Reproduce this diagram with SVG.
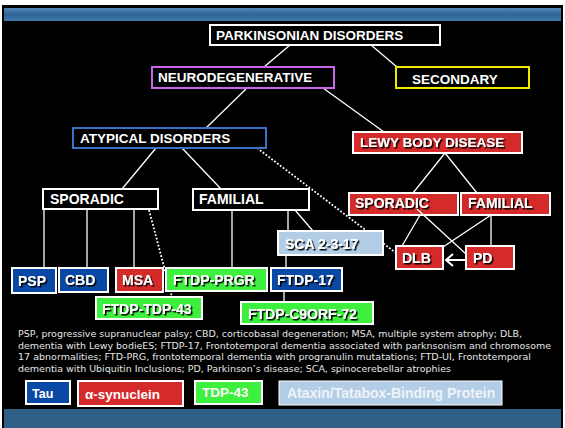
<svg xmlns="http://www.w3.org/2000/svg" width="565" height="428" viewBox="0 0 565 428">
<defs>
<linearGradient id="hdr" x1="0" y1="0" x2="0" y2="1">
<stop offset="0" stop-color="#5288b8"/>
<stop offset="0.5" stop-color="#2e6697"/>
<stop offset="1" stop-color="#3f77a8"/>
</linearGradient>
<filter id="sh" x="-10%" y="-30%" width="130%" height="170%">
<feDropShadow dx="1.5" dy="1.5" stdDeviation="0.4" flood-color="#000" flood-opacity="1"/>
</filter>
</defs>
<style>
.t{font-family:"Liberation Sans",Arial,sans-serif;font-weight:bold;font-size:14px;fill:#fff}
.ts{font-family:"Liberation Sans",Arial,sans-serif;font-weight:bold;font-size:14px;fill:#fff;filter:url(#sh)}
.bk{fill:#000;stroke:#fff;stroke-width:2}
.bl{fill:#0a48a6;stroke:#fff;stroke-width:2}
.rd{fill:#d42a2a;stroke:#fff;stroke-width:2}
.gr{fill:#3ef03e;stroke:#fff;stroke-width:2}
.lb{fill:#b3cde7;stroke:#fff;stroke-width:2}
.ln{stroke:#fff;stroke-width:1.3;fill:none}
.dt{stroke:#fff;stroke-width:1.8;fill:none;stroke-dasharray:1.8 1.8}
.ft{font-family:"DejaVu Sans",Verdana,sans-serif;font-size:9.5px;fill:#e6e6e6}
</style>
<rect x="0" y="0" width="565" height="428" fill="#fff"/>
<rect x="2" y="5" width="561" height="423" fill="#000"/>
<rect x="4" y="8" width="557" height="13" fill="url(#hdr)"/>
<rect x="4" y="409" width="557" height="19" fill="#2f5e86"/>

<g id="connectors">
<line class="ln" x1="290" y1="45" x2="264" y2="67"/>
<line class="ln" x1="371" y1="45" x2="397" y2="67"/>
<line class="ln" x1="246" y1="89" x2="206" y2="128"/>
<line class="ln" x1="323" y1="88" x2="384" y2="132"/>
<line class="ln" x1="156" y1="148" x2="122" y2="189"/>
<line class="ln" x1="182" y1="148" x2="221" y2="189"/>
<line class="ln" x1="44" y1="209" x2="44" y2="268"/>
<line class="ln" x1="87" y1="209" x2="87" y2="268"/>
<line class="ln" x1="134" y1="209" x2="134" y2="268"/>
<line class="ln" x1="232" y1="210" x2="232" y2="268"/>
<line class="ln" x1="288" y1="210" x2="288" y2="231"/>
<line class="ln" x1="295" y1="210" x2="313" y2="231"/>
<line class="ln" x1="286" y1="255" x2="286" y2="268"/>
<line class="ln" x1="284" y1="291" x2="284" y2="302"/>
<line class="ln" x1="445" y1="153" x2="413" y2="193"/>
<line class="ln" x1="445" y1="153" x2="477" y2="193"/>
<line class="ln" x1="420" y1="215" x2="402" y2="246"/>
<line class="ln" x1="491" y1="215" x2="491" y2="246"/>
<line class="ln" x1="491" y1="215" x2="443" y2="247"/>
<line class="dt" x1="257" y1="148" x2="396" y2="253"/>
<line class="dt" x1="149" y1="210" x2="172" y2="297"/>
</g>

<g id="parkinsonian"><rect class="bk" x="210" y="25" width="230" height="20"/><text class="t" x="216" y="40" style="font-size:13.5px">PARKINSONIAN DISORDERS</text></g>
<g id="neurodegenerative"><rect x="152" y="67" width="182" height="21" fill="#000" stroke="#c766ea" stroke-width="2"/><text class="t" x="158" y="82" style="font-size:13.5px">NEURODEGENERATIVE</text></g>
<g id="secondary"><rect x="396" y="67" width="133" height="21" fill="#000" stroke="#f2ea00" stroke-width="2"/><text class="t" x="412" y="84" style="font-size:13.5px">SECONDARY</text></g>
<g id="atypical"><rect x="73" y="128" width="193" height="20" fill="#000" stroke="#3b72c8" stroke-width="2"/><text class="t" x="80" y="143" style="font-size:13.5px">ATYPICAL DISORDERS</text></g>
<g id="lewy"><rect class="rd" x="353" y="132" width="169" height="21"/><text class="ts" x="360" y="147" style="font-size:13.5px">LEWY BODY DISEASE</text></g>

<g id="sporadic-a"><rect class="bk" x="43" y="189" width="115" height="20"/><text class="t" x="50" y="204">SPORADIC</text></g>
<g id="familial-a"><rect class="bk" x="193" y="189" width="116" height="21"/><text class="t" x="199" y="204">FAMILIAL</text></g>
<g id="sporadic-l"><rect class="rd" x="349" y="193" width="109" height="22"/><text class="ts" x="355" y="208">SPORADIC</text></g>
<g id="familial-l"><rect class="rd" x="461" y="193" width="89" height="22"/><text class="ts" x="468" y="208">FAMILIAL</text></g>
<g id="cross"><line class="ln" x1="417" y1="209" x2="466" y2="254"/></g>

<g id="psp"><rect class="bl" x="12" y="268" width="44" height="25"/><text class="ts" x="18" y="286">PSP</text></g>
<g id="cbd"><rect class="bl" x="59" y="268" width="49" height="24"/><text class="ts" x="65" y="285">CBD</text></g>
<g id="msa"><rect class="rd" x="116" y="268" width="47" height="24"/><text class="ts" x="122" y="285">MSA</text></g>
<g id="ftdp-prgr"><rect class="gr" x="166" y="268" width="101" height="23"/><text class="ts" x="173" y="285">FTDP-PRGR</text></g>
<g id="ftdp-17"><rect class="bl" x="271" y="268" width="71" height="23"/><text class="ts" x="277" y="285">FTDP-17</text></g>
<g id="sca"><rect class="lb" x="278" y="231" width="105" height="24"/><text class="ts" x="285" y="249">SCA 2-3-17</text></g>
<g id="ftdp-tdp-43"><rect class="gr" x="96" y="297" width="106" height="22"/><text class="ts" x="102" y="314">FTDP-TDP-43</text></g>
<g id="ftdp-c9orf-72"><rect class="gr" x="241" y="302" width="132" height="22"/><text class="ts" x="248" y="319">FTDP-C9ORF-72</text></g>
<g id="dlb"><rect class="rd" x="396" y="246" width="47" height="23"/><text class="ts" x="402" y="263">DLB</text></g>
<g id="pd"><rect class="rd" x="466" y="246" width="48" height="23"/><text class="ts" x="473" y="263">PD</text></g>
<g id="arrow"><line x1="466" y1="260" x2="446" y2="260" stroke="#fff" stroke-width="2"/><polyline points="453,254 446,260 453,266" fill="none" stroke="#fff" stroke-width="2"/></g>

<g id="footnote">
<text class="ft" x="18" y="337" textLength="504" lengthAdjust="spacingAndGlyphs">PSP, progressive supranuclear palsy; CBD, corticobasal degeneration; MSA, multiple system atrophy; DLB,</text>
<text class="ft" x="18" y="349" textLength="533" lengthAdjust="spacingAndGlyphs">dementia with Lewy bodieES; FTDP-17, Frontotemporal dementia associated with parknsonism and chromosome</text>
<text class="ft" x="18" y="360" textLength="513" lengthAdjust="spacingAndGlyphs">17 abnormalities; FTD-PRG, frontotemporal dementia with progranulin mutatations; FTD-UI, Frontotemporal</text>
<text class="ft" x="18" y="372" textLength="433" lengthAdjust="spacingAndGlyphs">dementia with Ubiquitin Inclusions; PD, Parkinson’s disease; SCA, spinocerebellar atrophies</text>
</g>

<g id="legend-tau"><rect class="bl" x="26" y="381" width="44" height="23"/><text class="t" x="32" y="398" style="font-size:12.5px">Tau</text></g>
<g id="legend-syn"><rect class="rd" x="78" y="381" width="105" height="25"/><text class="t" x="85" y="399" style="font-size:13.5px">α-synuclein</text></g>
<g id="legend-tdp"><rect class="gr" x="195" y="381" width="67" height="23"/><text class="t" x="202" y="397" style="font-size:13.5px">TDP-43</text></g>
<g id="legend-ataxin"><rect fill="#b3cde7" stroke="#ffffff" stroke-width="1" x="279" y="381" width="223" height="24"/><text class="t" x="287" y="398" style="fill:#eef4fa">Ataxin/Tatabox-Binding Protein</text></g>
</svg>
